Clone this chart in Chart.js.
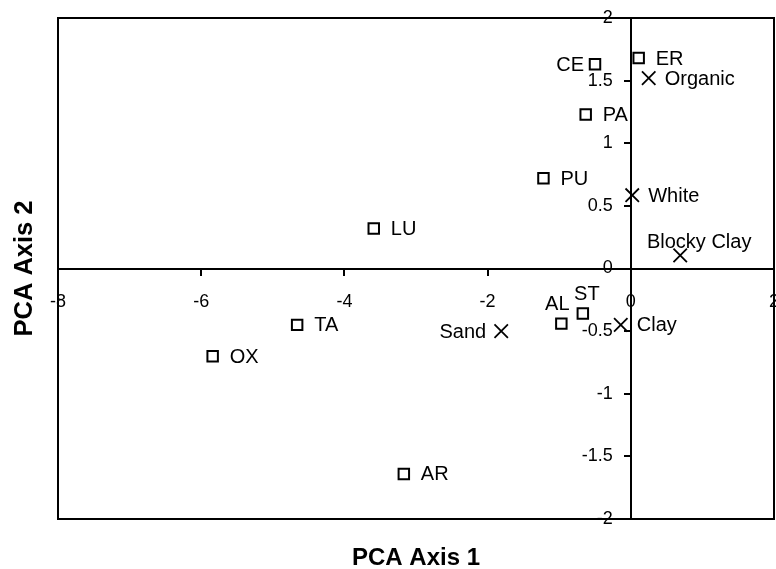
<!DOCTYPE html>
<html>
<head>
<meta charset="utf-8">
<script src="https://cdn.jsdelivr.net/npm/chart.js@4.4.1/dist/chart.umd.min.js"></script>
<style>
html,body{margin:0;padding:0;background:#fff;}
#wrap{width:776px;height:569px;position:relative;}
</style>
</head>
<body>
<div id="wrap"><canvas id="c"></canvas></div>
<script>
// ---- data ----
const siteNames = ['CE','ER','PA','PU','LU','TA','OX','AR','AL','ST'];
const siteX = [-0.50, 0.11, -0.63, -1.22, -3.59, -4.66, -5.84, -3.17, -0.97, -0.67];
const siteY = [1.63, 1.68, 1.23, 0.72, 0.32, -0.45, -0.70, -1.64, -0.44, -0.36];
const soilNames = ['Organic','White','Blocky Clay','Sand','Clay'];
const soilX = [0.25, 0.02, 0.69, -1.81, -0.14];
const soilY = [1.52, 0.585, 0.105, -0.50, -0.45];
const xTickValues = [-8, -6, -4, -2, 0, 2];
const yTickValues = [2, 1.5, 1, 0.5, 0, -0.5, -1, -1.5, -2];
const xTitle = 'PCA Axis 1';
const yTitle = 'PCA Axis 2';

// ---- label placement (relative to each marker) ----
const sitePlacement = { CE:{side:'left'}, AL:{side:'top',dx:-4,dy:-20}, ST:{side:'top',dx:4,dy:-20} };
const soilPlacement = { 'Blocky Clay':{side:'top',dx:19,dy:-14}, Sand:{side:'left'} };

const FAM = '"Liberation Sans", Arial, Helvetica, sans-serif';

const toPoints = (xs, ys) => xs.map((v, i) => ({x: v, y: ys[i]}));

const labelPlugin = {
  id: 'pointLabels',
  afterDatasetsDraw(chart) {
    const ctx = chart.ctx;
    ctx.save();
    ctx.fillStyle = '#000';
    ctx.font = '20px ' + FAM;
    chart.data.datasets.forEach((ds, di) => {
      const meta = chart.getDatasetMeta(di);
      meta.data.forEach((el, i) => {
        const name = ds.names[i];
        const p = ds.placement[name] || {side:'right'};
        let x = el.x, y = el.y;
        ctx.textBaseline = 'middle';
        if (p.side === 'right') {
          ctx.textAlign = 'left';
          x += ds.rightGap;
        } else if (p.side === 'left') {
          ctx.textAlign = 'right';
          x -= ds.leftGap;
        } else {
          ctx.textAlign = 'center';
          x += p.dx || 0; y += p.dy || 0;
        }
        ctx.fillText(name, x, y + 1);
      });
    });
    ctx.restore();
  }
};

// centred y-axis: move its tick labels to the left of the tick marks
const yLabelShift = {
  id: 'yLabelShift',
  beforeDraw(chart) {
    const s = chart.scales.y;
    const tl = s.options.grid.tickLength + s.options.ticks.padding;
    s.getLabelItems(chart.chartArea).forEach(it => {
      if (!it._shifted) { it.options.translation[0] -= tl; it._shifted = true; }
    });
  }
};

const framePlugin = {
  id: 'frame',
  afterDraw(chart) {
    const ctx = chart.ctx, a = chart.chartArea;
    ctx.save();
    ctx.strokeStyle = '#000';
    ctx.lineWidth = 2;
    ctx.strokeRect(a.left, a.top, a.right - a.left, a.bottom - a.top);
    ctx.fillStyle = '#000';
    ctx.textAlign = 'center';
    ctx.textBaseline = 'middle';
    ctx.font = 'bold 24px ' + FAM;
    ctx.fillText(xTitle, (a.left + a.right) / 2, a.bottom + 39);
    ctx.font = 'bold 25.5px ' + FAM;
    ctx.translate(24, (a.top + a.bottom) / 2);
    ctx.rotate(-Math.PI / 2);
    ctx.fillText(yTitle, 0, 1);
    ctx.restore();
  }
};

new Chart(document.getElementById('c'), {
  type: 'scatter',
  data: {
    datasets: [
      {
        label: 'Sites',
        names: siteNames,
        placement: sitePlacement,
        rightGap: 17, leftGap: 11,
        data: toPoints(siteX, siteY),
        pointStyle: 'rect',
        pointRadius: 7.4,
        borderColor: '#000',
        backgroundColor: 'rgba(0,0,0,0)',
        borderWidth: 2
      },
      {
        label: 'Soil types',
        names: soilNames,
        placement: soilPlacement,
        rightGap: 16, leftGap: 15,
        data: toPoints(soilX, soilY),
        pointStyle: 'crossRot',
        pointRadius: 9.5,
        borderColor: '#000',
        backgroundColor: '#000',
        borderWidth: 1.8
      }
    ]
  },
  options: {
    responsive: true,
    maintainAspectRatio: false,
    animation: false,
    devicePixelRatio: 1,
    events: [],
    layout: { autoPadding: false, padding: { left: 58, top: 18, right: 2, bottom: 50 } },
    plugins: { legend: { display: false }, tooltip: { enabled: false }, title: { display: false } },
    scales: {
      x: {
        type: 'linear', min: -8, max: 2,
        position: { y: 0 },
        afterBuildTicks: s => { s.ticks = xTickValues.map(v => ({value: v})); },
        afterFit: s => { s.paddingLeft = 0; s.paddingRight = 0; },
        border: { display: true, color: '#000', width: 2 },
        grid: { display: true, drawOnChartArea: false, drawTicks: true, tickLength: 6, color: '#000', lineWidth: 2 },
        ticks: { color: '#000', font: { family: FAM, size: 18 }, padding: 17, maxRotation: 0, autoSkip: false, callback: v => String(v) },
        title: { display: false }
      },
      y: {
        type: 'linear', min: -2, max: 2,
        position: { x: 0 },
        afterBuildTicks: s => { s.ticks = yTickValues.map(v => ({value: v})); },
        afterFit: s => { s.paddingTop = 0; s.paddingBottom = 0; },
        border: { display: true, color: '#000', width: 2 },
        grid: { display: true, drawOnChartArea: false, drawTicks: true, tickLength: 6, color: '#000', lineWidth: 2 },
        ticks: { color: '#000', font: { family: FAM, size: 18 }, padding: 12, autoSkip: false, callback: v => String(v) },
        title: { display: false }
      }
    }
  },
  plugins: [yLabelShift, labelPlugin, framePlugin]
});
</script>
</body>
</html>
